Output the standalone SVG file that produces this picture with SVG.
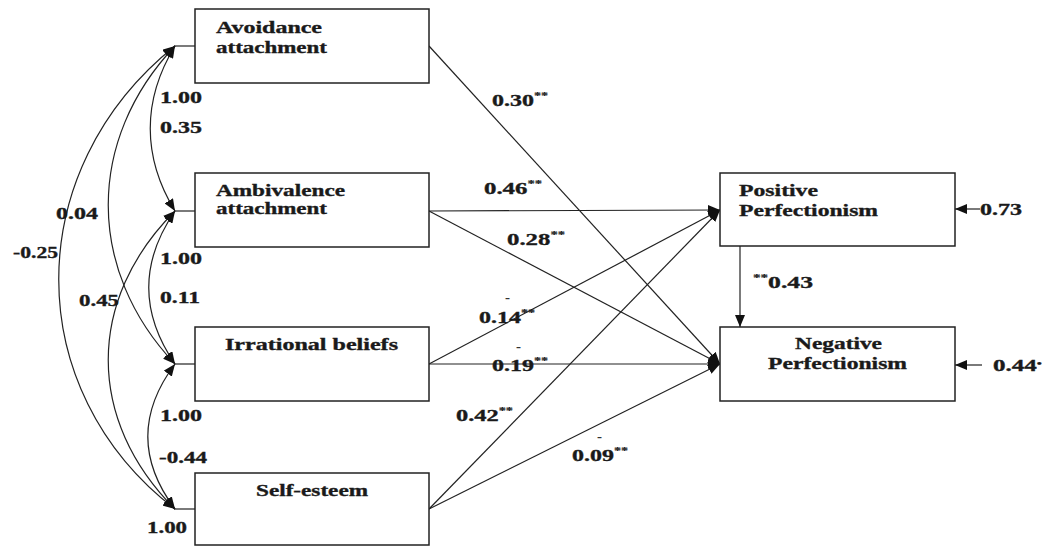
<svg xmlns="http://www.w3.org/2000/svg" width="1047" height="547" viewBox="0 0 1047 547">
<style>
.box{fill:#fff;stroke:#222;stroke-width:1.5}
.ln{fill:none;stroke:#222;stroke-width:1.2}
.t{font-family:'Liberation Serif',serif;font-weight:700;font-size:17px;fill:#1a1a1a;stroke:#1a1a1a;stroke-width:0.35}
.s{font-size:10px;stroke-width:0.2}
.d{font-family:'Liberation Serif',serif;font-weight:700;font-size:15px;fill:#333}
</style>
<defs>
<marker id="ah" markerWidth="12" markerHeight="10" refX="12" refY="5" orient="auto-start-reverse" markerUnits="userSpaceOnUse">
<path d="M0,0 L12,5 L0,10 Z" fill="#111"/>
</marker>
</defs>
<rect width="1047" height="547" fill="#fff"/>
<g id="connectors">
<line class="ln" x1="195" y1="46" x2="174" y2="46"/>
<line class="ln" x1="195" y1="211" x2="174" y2="211"/>
<line class="ln" x1="195" y1="364" x2="174" y2="364"/>
<line class="ln" x1="195" y1="509" x2="174" y2="509"/>
<path class="ln" d="M175,46 C142,100 142,157 175,211" marker-start="url(#ah)" marker-end="url(#ah)"/>
<path class="ln" d="M175,211 C140,262 140,313 175,364" marker-start="url(#ah)" marker-end="url(#ah)"/>
<path class="ln" d="M175,364 C139,412 139,461 175,509" marker-start="url(#ah)" marker-end="url(#ah)"/>
<path class="ln" d="M175,46 C86,140 86,270 175,364" marker-start="url(#ah)" marker-end="url(#ah)"/>
<path class="ln" d="M175,211 C86,300 86,420 175,509" marker-start="url(#ah)" marker-end="url(#ah)"/>
<path class="ln" d="M175,46 C20,170 20,390 175,509" marker-start="url(#ah)" marker-end="url(#ah)"/>
<line class="ln" x1="429" y1="46" x2="720" y2="364" marker-end="url(#ah)"/>
<line class="ln" x1="429" y1="211" x2="720" y2="210" marker-end="url(#ah)"/>
<line class="ln" x1="429" y1="211" x2="720" y2="364" marker-end="url(#ah)"/>
<line class="ln" x1="429" y1="364" x2="720" y2="210" marker-end="url(#ah)"/>
<line class="ln" x1="429" y1="364" x2="720" y2="364" marker-end="url(#ah)"/>
<line class="ln" x1="429" y1="509" x2="720" y2="210" marker-end="url(#ah)"/>
<line class="ln" x1="429" y1="509" x2="720" y2="364" marker-end="url(#ah)"/>
<line class="ln" x1="740" y1="246" x2="740" y2="327" marker-end="url(#ah)"/>
<line class="ln" x1="980" y1="209" x2="955" y2="209" marker-end="url(#ah)"/>
<line class="ln" x1="982" y1="365" x2="955" y2="365" marker-end="url(#ah)"/>
</g>
<g id="avoidance">
<rect class="box" x="195" y="9" width="234" height="74"/>
<text class="t" x="216" y="33" textLength="106" lengthAdjust="spacingAndGlyphs">Avoidance</text>
<text class="t" x="216" y="53" textLength="111" lengthAdjust="spacingAndGlyphs">attachment</text>
</g>
<g id="ambivalence">
<rect class="box" x="195" y="173" width="234" height="74"/>
<text class="t" x="216" y="196" textLength="129" lengthAdjust="spacingAndGlyphs">Ambivalence</text>
<text class="t" x="216" y="214" textLength="111" lengthAdjust="spacingAndGlyphs">attachment</text>
</g>
<g id="irrational">
<rect class="box" x="195" y="327" width="234" height="74"/>
<text class="t" x="225" y="350" textLength="173" lengthAdjust="spacingAndGlyphs">Irrational beliefs</text>
</g>
<g id="selfesteem">
<rect class="box" x="195" y="473" width="234" height="72"/>
<text class="t" x="256" y="496" textLength="112" lengthAdjust="spacingAndGlyphs">Self-esteem</text>
</g>
<g id="positive">
<rect class="box" x="720" y="173" width="235" height="73"/>
<text class="t" x="739" y="196" textLength="79" lengthAdjust="spacingAndGlyphs">Positive</text>
<text class="t" x="739" y="216" textLength="139" lengthAdjust="spacingAndGlyphs">Perfectionism</text>
</g>
<g id="negative">
<rect class="box" x="720" y="327" width="235" height="74"/>
<text class="t" x="795" y="349" textLength="87" lengthAdjust="spacingAndGlyphs">Negative</text>
<text class="t" x="768" y="369" textLength="139" lengthAdjust="spacingAndGlyphs">Perfectionism</text>
</g>
<g id="labels">
<text class="t" x="160" y="103" textLength="42" lengthAdjust="spacingAndGlyphs">1.00</text>
<text class="t" x="160" y="133" textLength="42" lengthAdjust="spacingAndGlyphs">0.35</text>
<text class="t" x="56" y="219" textLength="42" lengthAdjust="spacingAndGlyphs">0.04</text>
<text class="t" x="13" y="258" textLength="45" lengthAdjust="spacingAndGlyphs">-0.25</text>
<text class="t" x="160" y="264" textLength="42" lengthAdjust="spacingAndGlyphs">1.00</text>
<text class="t" x="79" y="306" textLength="40" lengthAdjust="spacingAndGlyphs">0.45</text>
<text class="t" x="160" y="303" textLength="40" lengthAdjust="spacingAndGlyphs">0.11</text>
<text class="t" x="160" y="421" textLength="42" lengthAdjust="spacingAndGlyphs">1.00</text>
<text class="t" x="159" y="463" textLength="48" lengthAdjust="spacingAndGlyphs">-0.44</text>
<text class="t" x="147" y="533" textLength="40" lengthAdjust="spacingAndGlyphs">1.00</text>
<text class="t" x="492" y="106" textLength="56" lengthAdjust="spacingAndGlyphs">0.30<tspan class="s" dy="-7">**</tspan></text>
<text class="t" x="484" y="194" textLength="58" lengthAdjust="spacingAndGlyphs">0.46<tspan class="s" dy="-7">**</tspan></text>
<text class="t" x="507" y="245" textLength="58" lengthAdjust="spacingAndGlyphs">0.28<tspan class="s" dy="-7">**</tspan></text>
<text class="d" x="505" y="302">-</text>
<text class="t" x="479" y="323" textLength="56" lengthAdjust="spacingAndGlyphs">0.14<tspan class="s" dy="-7">**</tspan></text>
<text class="d" x="516" y="351">-</text>
<text class="t" x="492" y="371" textLength="56" lengthAdjust="spacingAndGlyphs">0.19<tspan class="s" dy="-7">**</tspan></text>
<text class="t" x="456" y="421" textLength="57" lengthAdjust="spacingAndGlyphs">0.42<tspan class="s" dy="-7">**</tspan></text>
<text class="d" x="597" y="441">-</text>
<text class="t" x="572" y="461" textLength="56" lengthAdjust="spacingAndGlyphs">0.09<tspan class="s" dy="-7">**</tspan></text>
<text class="t" x="753" y="288" textLength="60" lengthAdjust="spacingAndGlyphs"><tspan class="s" dy="-7">**</tspan><tspan dy="7">0.43</tspan></text>
<text class="t" x="980" y="215" textLength="42" lengthAdjust="spacingAndGlyphs">0.73</text>
<text class="t" x="993" y="371" textLength="49" lengthAdjust="spacingAndGlyphs">0.44<tspan class="s" dy="-4">•</tspan></text>
</g>
</svg>
